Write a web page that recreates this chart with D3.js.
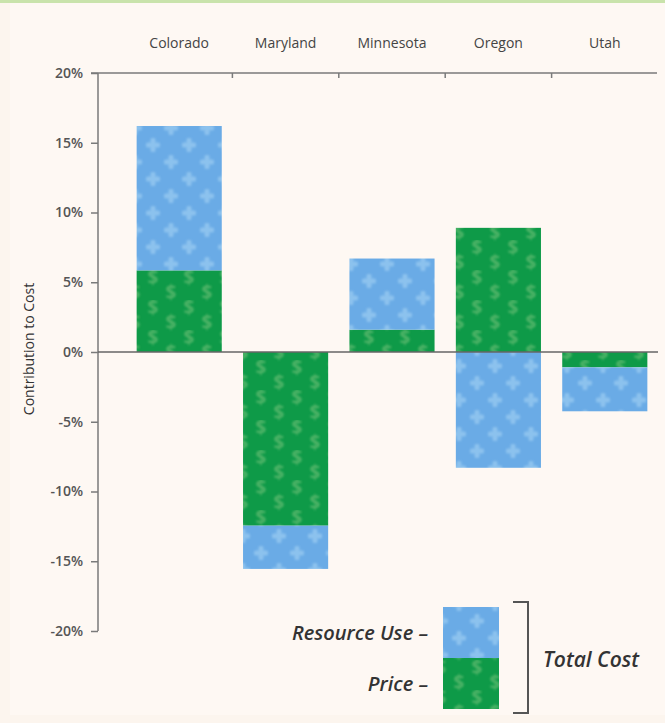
<!DOCTYPE html>
<html>
<head>
<meta charset="utf-8">
<script src="https://cdn.jsdelivr.net/npm/d3@7"></script>
<style>
  body { margin: 0; background: #fcf5ee; }
  svg { display: block; font-family: "Open Sans", sans-serif; }
</style>
</head>
<body>
<svg id="chart" width="665" height="723"></svg>
<script>
// data (percent contribution to cost)
const states = ["Colorado", "Maryland", "Minnesota", "Oregon", "Utah"];
const price = [5.85, -12.45, 1.6, 8.9, -1.1];
const resourceUse = [10.35, -3.1, 5.1, -8.3, -3.15];
const yTicks = [20, 15, 10, 5, 0, -5, -10, -15, -20];
const legendItems = ["Resource Use", "Price"];

const svg = d3.select("#chart");

// background panel + green rule at the very top
svg.append("rect").attr("width", 665).attr("height", 723).attr("fill", "#fcf5ee");
svg.append("rect").attr("x", 10).attr("y", 3).attr("width", 655).attr("height", 712).attr("fill", "#fef8f3");
svg.append("rect").attr("width", 665).attr("height", 3).attr("fill", "#c9e3ab");

// patterns
const defs = svg.append("defs");
defs.append("filter").attr("id", "soft")
  .append("feGaussianBlur").attr("stdDeviation", 0.8);

const blue = defs.append("pattern")
    .attr("id", "pat-resource")
    .attr("patternUnits", "userSpaceOnUse")
    .attr("width", 36).attr("height", 34);
blue.append("rect").attr("width", 36).attr("height", 34).attr("fill", "#6aabe6");
const crosses = blue.append("g").attr("filter", "url(#soft)").attr("fill", "#8cc2ee");
[[9, 9], [27, 26], [27, -8], [-9, 26]].forEach(([cx, cy]) => {
  crosses.append("rect").attr("x", cx - 7).attr("y", cy - 2.5).attr("width", 14).attr("height", 5).attr("rx", 1.5);
  crosses.append("rect").attr("x", cx - 2.5).attr("y", cy - 7).attr("width", 5).attr("height", 14).attr("rx", 1.5);
});

const green = defs.append("pattern")
    .attr("id", "pat-price")
    .attr("patternUnits", "userSpaceOnUse")
    .attr("width", 36).attr("height", 30);
green.append("rect").attr("width", 36).attr("height", 30).attr("fill", "#0e9a48");
const dollars = green.append("g").attr("filter", "url(#soft)");
[[9, 14], [27, 29], [27, -1], [-9, 29]].forEach(([cx, cy]) => {
  dollars.append("text")
    .attr("x", cx).attr("y", cy)
    .attr("text-anchor", "middle")
    .attr("font-size", 19)
    .attr("font-weight", "bold")
    .attr("fill", "#4fb468")
    .text("$");
});

const fills = { price: "url(#pat-price)", resource: "url(#pat-resource)" };

// scales
const x = d3.scaleBand().domain(states).range([126, 658]).paddingInner(0.2).paddingOuter(0.1);
const y = d3.scaleLinear().domain([-20, 20]).range([631, 73]);

const table = states.map((s, i) => ({ state: s, price: price[i], resource: resourceUse[i] }));
const series = d3.stack()
    .keys(["price", "resource"])
    .offset(d3.stackOffsetDiverging)(table);

// bars
svg.append("g")
  .selectAll("g")
  .data(series)
  .join("g")
    .attr("fill", d => fills[d.key])
  .selectAll("rect")
  .data(d => d)
  .join("rect")
    .attr("x", d => x(d.data.state))
    .attr("width", x.bandwidth())
    .attr("y", d => y(Math.max(d[0], d[1])))
    .attr("height", d => Math.abs(y(d[0]) - y(d[1])));

// y axis
const axisColor = "#7a7a7a";
const yAxis = svg.append("g")
    .attr("transform", "translate(98,0)")
    .call(d3.axisLeft(y).tickValues(yTicks).tickSize(7).tickPadding(8).tickFormat(d => d + "%"));
yAxis.select(".domain").attr("stroke", axisColor).attr("stroke-width", 1.5).attr("d", "M0,73V631");
yAxis.selectAll(".tick line").attr("stroke", axisColor).attr("stroke-width", 1.5);
yAxis.selectAll(".tick text")
    .attr("fill", "#555")
    .attr("font-size", 14)
    .attr("font-weight", 600)
    .attr("font-family", "Open Sans, sans-serif");

// top rule with category dividers and labels
svg.append("line")
    .attr("x1", 91).attr("x2", 657)
    .attr("y1", y(20)).attr("y2", y(20))
    .attr("stroke", axisColor).attr("stroke-width", 1.5);
svg.append("g")
  .selectAll("line")
  .data(states.slice(1))
  .join("line")
    .attr("x1", d => x(d) - x.step() * x.paddingInner() / 2)
    .attr("x2", d => x(d) - x.step() * x.paddingInner() / 2)
    .attr("y1", y(20)).attr("y2", y(20) + 5)
    .attr("stroke", axisColor).attr("stroke-width", 1.5);
svg.append("g")
  .selectAll("text")
  .data(states)
  .join("text")
    .attr("x", d => x(d) + x.bandwidth() / 2)
    .attr("y", 48)
    .attr("text-anchor", "middle")
    .attr("font-size", 14)
    .attr("fill", "#444")
    .text(d => d);

// zero line
svg.append("line")
    .attr("x1", 98).attr("x2", 658)
    .attr("y1", y(0)).attr("y2", y(0))
    .attr("stroke", "#666").attr("stroke-width", 1.5);

// y axis title
svg.append("text")
    .attr("transform", `translate(34,${y(0) - 3}) rotate(-90)`)
    .attr("text-anchor", "middle")
    .attr("font-size", 14)
    .attr("fill", "#333")
    .text("Contribution to Cost");

// legend
const legend = svg.append("g");
const legendY = d3.scaleBand().domain(legendItems).range([607, 709]);
legend.selectAll("rect")
  .data(legendItems)
  .join("rect")
    .attr("x", 443)
    .attr("y", d => legendY(d))
    .attr("width", 56)
    .attr("height", legendY.bandwidth())
    .attr("fill", d => d === "Price" ? fills.price : fills.resource);
legend.selectAll("text.item")
  .data(legendItems)
  .join("text")
    .attr("class", "item")
    .attr("x", 428)
    .attr("y", d => legendY(d) + legendY.bandwidth() / 2 + 7)
    .attr("text-anchor", "end")
    .attr("font-size", 20)
    .attr("font-style", "italic")
    .attr("font-weight", 600)
    .attr("fill", "#333")
    .text(d => d + " \u2013");
legend.append("path")
    .attr("d", "M513,602H528V713H513")
    .attr("fill", "none")
    .attr("stroke", "#555")
    .attr("stroke-width", 2);
legend.append("text")
    .attr("x", 543)
    .attr("y", 667)
    .attr("font-size", 21)
    .attr("font-style", "italic")
    .attr("font-weight", 600)
    .attr("fill", "#333")
    .text("Total Cost");
</script>
</body>
</html>
